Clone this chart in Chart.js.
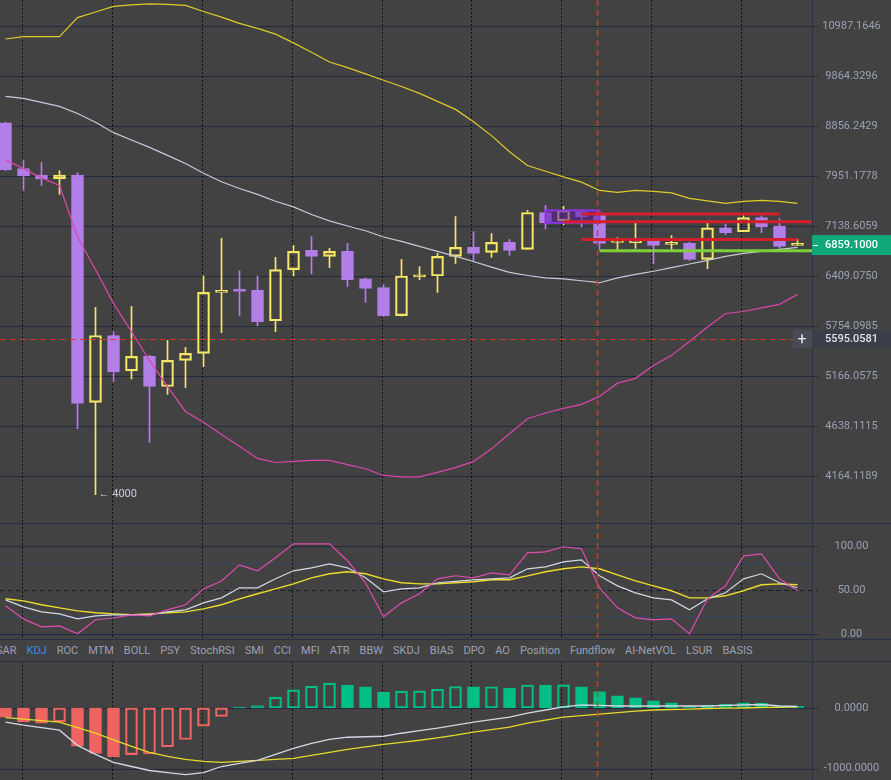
<!DOCTYPE html>
<html>
<head>
<meta charset="utf-8">
<script src="https://cdn.jsdelivr.net/npm/chart.js@4.4.1/dist/chart.umd.min.js"></script>
<style>
  html, body { margin: 0; padding: 0; background: #424242; }
  #wrap { position: relative; width: 891px; height: 780px; background: #424242; overflow: hidden; font-family: Roboto, sans-serif; }
  canvas { position: absolute; left: 0; }
  #main { top: 0; }
  #kdj { top: 523px; }
  #macd { top: 661px; }
  #tabs { position: absolute; left: -4px; top: 640px; height: 21px; width: 816px; display: flex; align-items: center; gap: 10px; font-size: 11px; color: #9ba1b5; white-space: nowrap; }
  #tabs .on { color: #3a8ee6; }
  #tabline { position: absolute; left: 812px; top: 640px; width: 1px; height: 21px; background: #29314a; }
</style>
</head>
<body>
<div id="wrap">
  <canvas id="main" width="891" height="523"></canvas>
  <canvas id="kdj" width="891" height="117"></canvas>
  <div id="tabs"></div>
  <div id="tabline"></div>
  <canvas id="macd" width="891" height="119"></canvas>
</div>
<script>
// candles, oldest first
const opens  = [8917, 8078, 7969, 7902, 7969, 4881, 5637, 5225, 5390, 5050, 5343, 5425, 6186, 6226, 6213, 5820, 6497, 6774, 6686, 6759, 6370, 6252, 5885, 6398, 6409, 6686, 6818, 6745, 6891, 6788, 7350, 7220, 7366, 7318, 6890, 6888, 6905, 6862, 6876, 6643, 7109, 7051, 7269, 7139, 6847];
const highs  = [8930, 8223, 8187, 8042, 8006, 5990, 5684, 6003, 5401, 5578, 5495, 6409, 6949, 6482, 6409, 6672, 6847, 6978, 6803, 6876, 6383, 6291, 6643, 6540, 6730, 7285, 7051, 7022, 6934, 7383, 7464, 7448, 7383, 7366, 6964, 7188, 6905, 6993, 6891, 7188, 7171, 7301, 7301, 7253, 6934];
const lows   = [8042, 7708, 7789, 7642, 4610, 4000, 5103, 5134, 4477, 4966, 5039, 5272, 5672, 5885, 5754, 5684, 6409, 6438, 6526, 6265, 6055, 5872, 5880, 6357, 6186, 6584, 6628, 6672, 6701, 6788, 7095, 7155, 7124, 6788, 6788, 6803, 6584, 6788, 6628, 6511, 7007, 7051, 7037, 6803, 6847];
const closes = [8060, 7951, 7902, 7969, 4870, 5637, 5213, 5390, 5050, 5343, 5425, 6186, 6213, 6200, 5807, 6497, 6759, 6686, 6759, 6357, 6239, 5885, 6409, 6412, 6686, 6818, 6730, 6891, 6774, 7350, 7188, 7383, 7285, 6876, 6905, 6910, 6847, 6876, 6643, 7109, 7037, 7269, 7124, 6832, 6859.1];

// BOLL
const bollUp  = [10684, 10740, 10740, 10740, 11187, 11325, 11462, 11500, 11525, 11512, 11487, 11337, 11200, 11050, 10931, 10796, 10594, 10381, 10167, 10044, 9909, 9774, 9643, 9501, 9340, 9179, 8937, 8675, 8377, 8132, 8033, 7935, 7846, 7707, 7675, 7707, 7691, 7667, 7577, 7537, 7496, 7529, 7545, 7529, 7496];
const bollMid = [9441, 9400, 9320, 9239, 9098, 8927, 8730, 8594, 8458, 8313, 8168, 7997, 7854, 7740, 7643, 7529, 7439, 7317, 7219, 7139, 7066, 6971, 6905, 6832, 6759, 6686, 6613, 6533, 6460, 6416, 6383, 6370, 6344, 6317, 6383, 6431, 6475, 6526, 6577, 6628, 6686, 6730, 6759, 6788, 6818];
const bollLow = [8232, 8078, 7919, 7789, 6971, 6497, 6042, 5684, 5342, 5050, 4786, 4675, 4553, 4439, 4325, 4287, 4297, 4306, 4306, 4268, 4230, 4169, 4156, 4156, 4197, 4240, 4297, 4415, 4562, 4712, 4770, 4818, 4860, 4944, 5087, 5140, 5284, 5401, 5566, 5742, 5911, 5937, 5983, 6029, 6160];

// KDJ
const kLine = [38.6, 30.7, 25, 22.7, 17, 20.5, 21.6, 21.6, 21.6, 25, 27.3, 35.2, 40.9, 52.3, 52.3, 62.5, 71.6, 75, 79.5, 75, 63.6, 47.7, 51.1, 52.3, 58, 59.7, 61.4, 62.5, 63.6, 73.9, 76.1, 81.8, 84.1, 65.9, 54.5, 46.6, 40.9, 38.6, 27.3, 39.8, 46.6, 62.5, 68.2, 58, 52.3];
const dLine = [39.8, 37.5, 33, 29.5, 26.1, 23.9, 22.7, 21.6, 22.7, 23.9, 25, 28.4, 33, 39.8, 45.5, 51.1, 56.8, 63.6, 68.2, 70.5, 68.2, 62.5, 58, 56.8, 56.8, 58, 59.1, 61.4, 61.4, 65.9, 70.5, 73.9, 76.1, 73.9, 67, 60.2, 54.5, 48.9, 40.9, 40.9, 43.2, 48.9, 55.7, 56.8, 55.7];
const jLine = [31.8, 17, 8, 9, 0, 16, 18, 21.6, 20.5, 27.3, 33, 51, 60, 78.4, 71.6, 86.4, 102.3, 102.3, 102.3, 83, 58, 19.3, 35.2, 45.5, 62.5, 66, 63.6, 69.3, 67, 92, 93.2, 98.9, 96.6, 52.3, 29.5, 18.2, 15.9, 17, 0, 39.8, 54.5, 88.6, 90.9, 62.5, 48.9];

// MACD
const dif = [-233, -283, -325, -367, -617, -767, -900, -967, -1033, -1067, -1100, -1067, -967, -917, -867, -767, -667, -583, -517, -483, -475, -467, -417, -375, -333, -283, -233, -192, -150, -83, -33, 17, 50, 42, 33, 33, 33, 33, 33, 33, 42, 50, 58, 33, 25];
const dea = [-158, -183, -208, -233, -325, -417, -525, -633, -733, -800, -850, -883, -900, -883, -867, -850, -833, -783, -733, -683, -642, -600, -567, -533, -492, -450, -400, -358, -317, -250, -200, -150, -125, -100, -75, -50, -33, -25, -17, -8, -3, 0, 8, 12, 17];
const macdHist = [-150, -230, -250, -230, -630, -750, -810, -770, -760, -640, -520, -300, -140, 15, 40, 180, 300, 360, 410, 380, 350, 260, 280, 282, 310, 355, 350, 352, 330, 380, 378, 382, 350, 270, 200, 170, 120, 85, 35, 50, 65, 85, 80, 35, 28];

// axis ticks
const priceTicks = [10987.1646, 9864.3296, 8856.2429, 7951.1778, 7138.6059, 6409.0750, 5754.0985, 5166.0575, 4638.1115, 4164.1189];
const kdjTicks = [100, 50, 0];
const macdTicks = [0, -1000];

const tabNames = ['SAR', 'KDJ', 'ROC', 'MTM', 'BOLL', 'PSY', 'StochRSI', 'SMI', 'CCI', 'MFI', 'ATR', 'BBW', 'SKDJ', 'BIAS', 'DPO', 'AO', 'Position', 'Fundflow', 'AI-NetVOL', 'LSUR', 'BASIS'];
const activeTab = 'KDJ';

// drawings on the price panel
const redLevels = [7325.6, 7203.7, 6934.3];
const redFrom = [32, 31, 32];
const redTo = [43, null, 44];
const greenLevel = 6766.6;
const greenFrom = 33;
const boxFrom = 30, boxTo = 33, boxTop = 7382.5, boxBottom = 7187.5;
const lastPrice = 6859.1;
const cursorIndex = 33, cursorPrice = 5595.0581;
const lowMarkIndex = 5, lowMark = 4000;

const UP = '#f6e665';
const DOWN = '#b27fe9';
const GRID = '#232a3e';
const AXIS = '#29314a';
const LABEL = '#9ba1b5';
const CROSS = '#da3620';

const idx = opens.map((_, i) => i);
const pts = arr => idx.map(i => ({x: i, y: arr[i]}));
const isUp = i => closes[i] >= opens[i];
const candleColor = c => isUp(c.dataIndex) ? UP : DOWN;

document.getElementById('tabs').innerHTML = tabNames
  .map(t => '<span' + (t === activeTab ? ' class="on"' : '') + '>' + t + '</span>').join('');

const xScale = {type: 'linear', display: false, offset: false, min: -0.3056, max: 44.8056};

function yScale(type, min, max) {
  return {
    type: type, position: 'right', min: min, max: max, bounds: 'data',
    grid: {display: false}, border: {display: false}, ticks: {display: false},
    afterFit: s => { s.width = 79; }
  };
}

function crossX(chart) {
  return Math.round(chart.scales.x.getPixelForValue(cursorIndex)) - 1.5;
}

// grid, axis labels, separators and the crosshair
const panelPlugin = {
  id: 'panel',
  beforeDatasetsDraw(chart, args, o) {
    const {ctx, chartArea: a, scales: {x, y}} = chart;
    ctx.save();
    ctx.lineWidth = 1;
    o.levels.forEach(l => {
      const py = Math.round(y.getPixelForValue(l.v)) + 0.5;
      ctx.strokeStyle = l.c || GRID;
      ctx.setLineDash(l.dash || []);
      ctx.beginPath();
      ctx.moveTo(a.left, py);
      ctx.lineTo(l.label ? a.right + 6 : a.right, py);
      ctx.stroke();
    });
    ctx.strokeStyle = '#111111';
    ctx.setLineDash([2, 2]);
    for (let i = 1; i < idx.length; i += 5) {
      const px = Math.round(x.getPixelForValue(i)) - 1.5;
      ctx.beginPath();
      ctx.moveTo(px, a.top);
      ctx.lineTo(px, a.bottom);
      ctx.stroke();
    }
    ctx.restore();
  },
  afterDatasetsDraw(chart, args, o) {
    const {ctx, chartArea: a} = chart;
    if (o.extra) o.extra(chart);
    // crosshair vertical
    ctx.save();
    ctx.strokeStyle = CROSS;
    ctx.lineWidth = 1.5;
    ctx.setLineDash([6, 4]);
    const cx = crossX(chart);
    ctx.beginPath();
    ctx.moveTo(cx, a.top);
    ctx.lineTo(cx, a.bottom - 2);
    ctx.stroke();
    ctx.restore();
  },
  afterDraw(chart, args, o) {
    const {ctx, chartArea: a, scales: {y}} = chart;
    const w = chart.width, h = chart.height;
    ctx.save();
    // axis line and separators
    ctx.lineWidth = 1;
    ctx.strokeStyle = AXIS;
    ctx.beginPath();
    ctx.moveTo(a.right + 0.5, 0);
    ctx.lineTo(a.right + 0.5, h);
    if (o.topLine) { ctx.moveTo(0, 0.5); ctx.lineTo(w, 0.5); }
    if (o.bottomLine) { ctx.moveTo(0, h - 0.5); ctx.lineTo(w, h - 0.5); }
    ctx.stroke();
    // labels
    ctx.font = '11px Roboto';
    ctx.fillStyle = LABEL;
    ctx.textAlign = 'center';
    ctx.textBaseline = 'middle';
    o.levels.filter(l => l.label).forEach(l => {
      ctx.fillText(l.v.toFixed(o.digits), a.right + 39.5, y.getPixelForValue(l.v));
    });
    if (o.overlay) o.overlay(chart);
    ctx.restore();
  }
};

function drawPriceMarks(chart) {
  const {ctx, chartArea: a, scales: {x, y}} = chart;
  const px = i => x.getPixelForValue(i);
  const py = v => y.getPixelForValue(v);
  ctx.save();
  // rectangle drawing
  const bx0 = px(boxFrom), bx1 = px(boxTo), by0 = py(boxTop), by1 = py(boxBottom);
  ctx.fillStyle = 'rgba(96, 30, 160, 0.55)';
  ctx.fillRect(bx0, by0, bx1 - bx0, by1 - by0);
  ctx.strokeStyle = '#8d33e6';
  ctx.lineWidth = 2;
  ctx.strokeRect(bx0, by0, bx1 - bx0, by1 - by0);
  // horizontal levels
  ctx.lineWidth = 3;
  ctx.strokeStyle = '#d21f2b';
  redLevels.forEach((v, k) => {
    const yy = py(v);
    ctx.beginPath();
    ctx.moveTo(px(redFrom[k]), yy);
    ctx.lineTo(redTo[k] === null ? a.right : px(redTo[k]), yy);
    ctx.stroke();
  });
  ctx.strokeStyle = '#7fcf3a';
  ctx.beginPath();
  ctx.moveTo(px(greenFrom), py(greenLevel));
  ctx.lineTo(a.right, py(greenLevel));
  ctx.stroke();
  // crosshair horizontal
  ctx.lineWidth = 1.2;
  ctx.strokeStyle = CROSS;
  ctx.setLineDash([6, 4]);
  const cy = Math.round(py(cursorPrice)) + 0.5;
  ctx.beginPath();
  ctx.moveTo(a.left, cy);
  ctx.lineTo(a.right - 19, cy);
  ctx.stroke();
  ctx.setLineDash([]);
  // low marker
  ctx.font = '11px Roboto';
  ctx.fillStyle = '#c6cad7';
  ctx.textAlign = 'left';
  ctx.textBaseline = 'middle';
  ctx.fillText('\u2190 4000', px(lowMarkIndex) + 3, py(lowMark));
  ctx.restore();
}

function drawPriceTags(chart) {
  const {ctx, chartArea: a, scales: {y}} = chart;
  const w = chart.width;
  ctx.save();
  // last price
  const ly = Math.round(y.getPixelForValue(lastPrice));
  ctx.fillStyle = '#10a77b';
  ctx.fillRect(a.right, ly - 10, w - a.right, 20);
  ctx.fillStyle = '#ffffff';
  ctx.fillRect(a.right + 1, ly, 5, 1);
  ctx.font = '500 11px Roboto';
  ctx.textAlign = 'center';
  ctx.textBaseline = 'middle';
  ctx.fillText(lastPrice.toFixed(4), a.right + 39.5, ly + 0.5);
  // cursor price
  const cy = Math.round(y.getPixelForValue(cursorPrice));
  ctx.fillStyle = '#474b55';
  ctx.fillRect(a.right - 19, cy - 9, 19, 18);
  ctx.fillStyle = '#3a3e49';
  ctx.fillRect(a.right, cy - 9, w - a.right, 18);
  ctx.fillStyle = '#e8eaf0';
  ctx.font = '16px Roboto';
  ctx.fillText('+', a.right - 10, cy + 0.5);
  ctx.font = '500 11px Roboto';
  ctx.fillStyle = '#dfe2ea';
  ctx.fillText(cursorPrice.toFixed(4), a.right + 39.5, cy + 0.5);
  ctx.restore();
}

const common = {
  responsive: false,
  animation: false,
  devicePixelRatio: 1,
  events: [],
  layout: {padding: 0}
};

function lineSet(arr, color, width) {
  return {type: 'line', data: pts(arr), borderColor: color, borderWidth: width, pointRadius: 0, tension: 0, order: 0};
}

new Chart(document.getElementById('main'), {
  type: 'bar',
  data: {
    datasets: [
      lineSet(bollUp, '#ddcb29', 1.2),
      lineSet(bollMid, '#c6c9da', 1.2),
      lineSet(bollLow, '#dd47ab', 1.2),
      {data: idx.map(i => ({x: i, y: [Math.max(opens[i], closes[i]), highs[i]]})),
       backgroundColor: candleColor, borderWidth: 0, barThickness: 1, grouped: false, order: 2},
      {data: idx.map(i => ({x: i, y: [lows[i], Math.min(opens[i], closes[i])]})),
       backgroundColor: candleColor, borderWidth: 0, barThickness: 1, grouped: false, order: 2},
      {data: idx.map(i => ({x: i, y: [opens[i], closes[i]]})),
       backgroundColor: c => isUp(c.dataIndex) ? 'rgba(0,0,0,0)' : DOWN,
       borderColor: candleColor, borderWidth: 1.5, borderSkipped: false,
       barThickness: 12, minBarLength: 2, grouped: false, order: 1}
    ]
  },
  options: Object.assign({}, common, {
    scales: {x: xScale, y: yScale('logarithmic', 3762.8, 11620.7)},
    plugins: {
      legend: {display: false}, tooltip: {enabled: false},
      panel: {
        levels: priceTicks.map(v => ({v: v, label: true})),
        digits: 4,
        extra: drawPriceMarks,
        overlay: drawPriceTags
      }
    }
  }),
  plugins: [panelPlugin]
});

new Chart(document.getElementById('kdj'), {
  type: 'line',
  data: {
    datasets: [
      lineSet(jLine, '#e04cb0', 1.2),
      lineSet(kLine, '#d3d6e4', 1.2),
      lineSet(dLine, '#ebdd2a', 1.4)
    ]
  },
  options: Object.assign({}, common, {
    scales: {x: xScale, y: yScale('linear', -7.0, 125.9)},
    plugins: {
      legend: {display: false}, tooltip: {enabled: false},
      panel: {
        levels: [
          {v: kdjTicks[0], label: true},
          {v: 80, c: '#36447a', dash: [4, 4]},
          {v: kdjTicks[1], label: true, c: '#1a1d2a', dash: [5, 3]},
          {v: 20, c: '#36447a', dash: [4, 4]},
          {v: kdjTicks[2], label: true}
        ],
        digits: 2,
        topLine: true,
        bottomLine: true
      }
    }
  }),
  plugins: [panelPlugin]
});

new Chart(document.getElementById('macd'), {
  type: 'bar',
  data: {
    datasets: [
      lineSet(dif, '#d3d6e4', 1.3),
      lineSet(dea, '#e6d92a', 1.3),
      {data: pts(macdHist),
       backgroundColor: c => {
         const i = c.dataIndex, v = macdHist[i];
         const prev = macdHist[i - 1];
         const filled = i === 0 || v < prev || (v >= 0) !== (prev >= 0);
         return filled ? (v >= 0 ? '#00bf86' : '#ef6461') : 'rgba(0,0,0,0)';
       },
       borderColor: c => macdHist[c.dataIndex] >= 0 ? '#00bf86' : '#ef6461',
       borderWidth: 1.5, borderSkipped: false, barThickness: 12, grouped: false, order: 1}
    ]
  },
  options: Object.assign({}, common, {
    scales: {x: xScale, y: yScale('linear', -1190, 776.9)},
    plugins: {
      legend: {display: false}, tooltip: {enabled: false},
      panel: {
        levels: macdTicks.map(v => ({v: v, label: true})),
        digits: 4,
        topLine: true
      }
    }
  }),
  plugins: [panelPlugin]
});
</script>
</body>
</html>
